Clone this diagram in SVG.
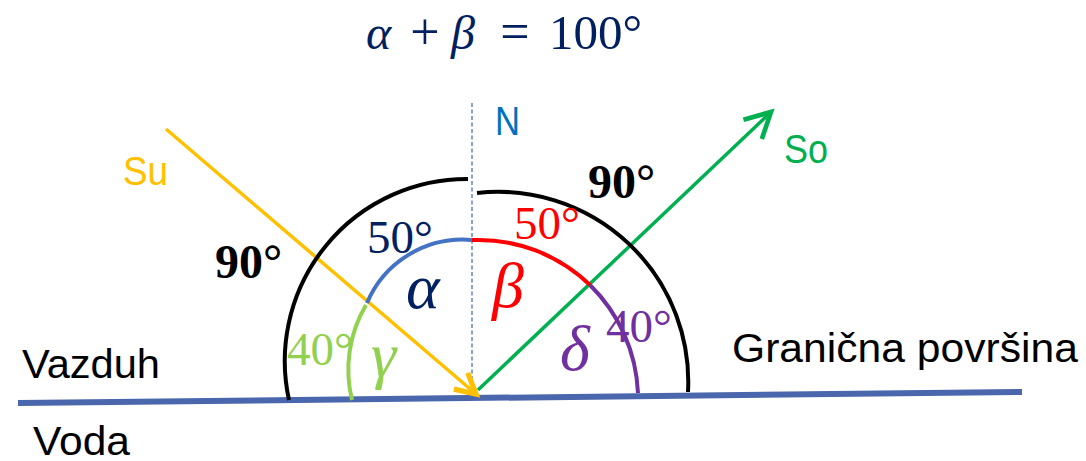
<svg xmlns="http://www.w3.org/2000/svg" width="1086" height="461" viewBox="0 0 1086 461">
<style>
.sans{font-family:"Liberation Sans","Open Sans",Arial,sans-serif;font-size:40px}
.serif{font-family:"Liberation Serif","Times New Roman",serif}
.deg{font-size:47px}
.greek{font-size:64px;font-style:italic}
.arc{fill:none;stroke-width:4}
.ray{fill:none;stroke-width:3.5}
</style>
<defs>
<marker id="arrG" markerUnits="userSpaceOnUse" markerWidth="40" markerHeight="40" refX="0" refY="0" viewBox="-25 -15 30 30" orient="auto" overflow="visible">
<path d="M-19,-10 L0,0 L-19,10" fill="none" stroke="#00B050" stroke-width="3.5"/>
</marker>
<marker id="arrY" markerUnits="userSpaceOnUse" markerWidth="40" markerHeight="40" refX="0" refY="0" viewBox="-25 -15 30 30" orient="auto" overflow="visible">
<path d="M-15,-8 L0,0 L-15,8" fill="none" stroke="#FFC000" stroke-width="4"/>
</marker>
</defs>
<rect width="1086" height="461" fill="#ffffff"/>

<g id="equation" class="serif" fill="#002060">
<text x="366" y="49" font-size="48" font-style="italic">α</text>
<text x="425" y="49" font-size="52" text-anchor="middle">+</text>
<text x="451" y="49" font-size="48" font-style="italic">β</text>
<text x="515" y="49" font-size="52" text-anchor="middle">=</text>
<text x="549" y="49" font-size="49">100°</text>
</g>

<g id="connectors">
<line id="boundary" x1="18" y1="403" x2="1022" y2="392" stroke="#4A66AC" stroke-width="6"/>
<line id="normal" x1="472" y1="103" x2="472" y2="396" stroke="#4472C4" stroke-width="1.3" stroke-dasharray="4,2.5"/>
<line id="incident" class="ray" x1="166" y1="129" x2="476" y2="394" stroke="#FFC000" marker-end="url(#arrY)"/>
<line id="reflected" class="ray" x1="478" y1="390" x2="771" y2="112" stroke="#00B050" marker-end="url(#arrG)"/>
</g>

<g id="outer-arcs">
<path id="arc-left-90" class="arc" d="M289,400 A182,182 0 0 1 468,179" stroke="#000000"/>
<path id="arc-right-90" class="arc" d="M477,193 A190,190 0 0 1 688,392" stroke="#000000"/>
</g>

<g id="angle-alpha">
<path class="arc" d="M367,303 A104,104 0 0 1 472,240" stroke="#4472C4"/>
<text class="serif deg" x="367" y="253" fill="#002060">50°</text>
<text class="serif greek" x="406" y="308" fill="#002060">α</text>
</g>

<g id="angle-beta">
<path class="arc" d="M472,240 A161,161 0 0 1 590,285" stroke="#FF0000"/>
<text class="serif deg" x="514" y="239" fill="#FF0000">50°</text>
<text class="serif greek" x="492" y="307" fill="#FF0000">β</text>
</g>

<g id="angle-delta">
<path class="arc" d="M590,285 A161,161 0 0 1 638,393" stroke="#7030A0"/>
<text class="serif deg" x="606" y="342" fill="#7030A0">40°</text>
<text class="serif greek" x="560" y="370" fill="#7030A0">δ</text>
</g>

<g id="angle-gamma">
<path class="arc" d="M366,305 A127,127 0 0 0 352,400" stroke="#92D050"/>
<text class="serif deg" x="287" y="365" fill="#92D050">40°</text>
<text class="serif greek" x="371" y="376" fill="#92D050">γ</text>
</g>

<g id="labels-90" class="serif" font-weight="bold" font-size="48" fill="#000000">
<text x="215" y="278">90°</text>
<text x="588" y="198">90°</text>
</g>

<g id="label-N"><text class="sans" x="495" y="135" fill="#0070C0" textLength="25" lengthAdjust="spacingAndGlyphs">N</text></g>
<g id="label-Su"><text class="sans" x="123" y="185" fill="#FFC000" textLength="45" lengthAdjust="spacingAndGlyphs">Su</text></g>
<g id="label-So"><text class="sans" x="784" y="163" fill="#00B050" textLength="44" lengthAdjust="spacingAndGlyphs">So</text></g>
<g id="label-vazduh"><text class="sans" x="22" y="378" fill="#000000" textLength="138" lengthAdjust="spacingAndGlyphs">Vazduh</text></g>
<g id="label-voda"><text class="sans" x="33" y="455" fill="#000000" textLength="97" lengthAdjust="spacingAndGlyphs">Voda</text></g>
<g id="label-granicna"><text class="sans" x="732" y="362" fill="#000000" textLength="346" lengthAdjust="spacingAndGlyphs">Granična površina</text></g>
</svg>
